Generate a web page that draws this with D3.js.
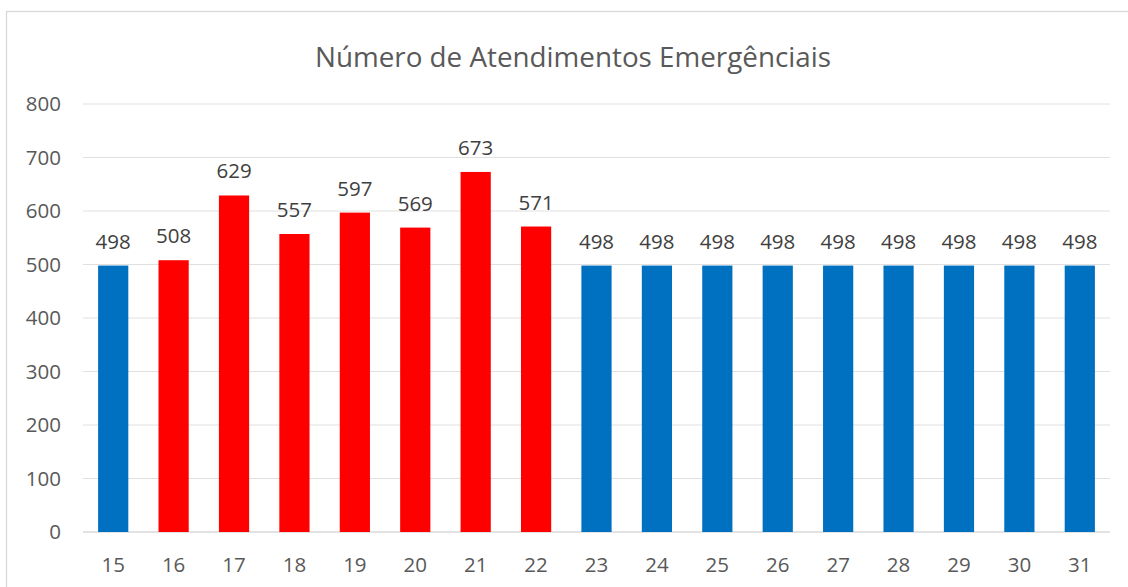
<!DOCTYPE html>
<html>
<head>
<meta charset="utf-8">
<script src="https://cdn.jsdelivr.net/npm/d3@7"></script>
<style>
  body { margin: 0; background: #fff; }
  svg { font-family: "Open Sans", sans-serif; }
</style>
</head>
<body>
<svg id="chart" width="1128" height="587"></svg>
<script>
// data
const days = ["15","16","17","18","19","20","21","22","23","24","25","26","27","28","29","30","31"];
const atendimentos = [498,508,629,557,597,569,673,571,498,498,498,498,498,498,498,498,498];
const highlighted = ["16","17","18","19","20","21","22"];
const yTicks = [0,100,200,300,400,500,600,700,800];

let svg = d3.select("#chart");

// chart frame
svg.append("rect")
    .attr("x", 6.5).attr("y", 11.5)
    .attr("width", 1140).attr("height", 600)
    .attr("fill", "#fff")
    .attr("stroke", "#d9d9d9")
    .attr("stroke-width", 1.3);

let x = d3.scaleBand()
    .domain(days)
    .range([83, 1110])
    .paddingInner(0.5)
    .paddingOuter(0.25);

let y = d3.scaleLinear()
    .domain([0, 800])
    .range([532, 104]);

svg.append("text")
    .attr("x", 573).attr("y", 67)
    .attr("text-anchor", "middle")
    .attr("font-size", 27.8)
    .attr("fill", "#595959")
    .text("Número de Atendimentos Emergênciais");

// gridlines
svg.append("g")
    .selectAll("line")
    .data(yTicks)
    .enter().append("line")
    .attr("x1", 83).attr("x2", 1110)
    .attr("y1", d => y(d)).attr("y2", d => y(d))
    .attr("stroke", d => d === 0 ? "#d9d9d9" : "#e0e0e0")
    .attr("stroke-width", d => d === 0 ? 1.5 : 1);

let yAxis = svg.append("g")
    .attr("transform", "translate(61,0)")
    .call(d3.axisLeft(y).tickValues(yTicks).tickSize(0).tickPadding(0));
yAxis.select(".domain").remove();
yAxis.selectAll("text")
    .attr("font-size", 20.5)
    .attr("font-family", "Open Sans, sans-serif")
    .attr("fill", "#595959");

svg.append("g")
    .selectAll("rect")
    .data(atendimentos)
    .enter().append("rect")
    .attr("x", (d, i) => x(days[i]))
    .attr("y", d => y(d))
    .attr("width", x.bandwidth())
    .attr("height", d => y(0) - y(d))
    .attr("fill", (d, i) => highlighted.includes(days[i]) ? "#ff0000" : "#0070c0");

// value labels
svg.append("g")
    .selectAll("text")
    .data(atendimentos)
    .enter().append("text")
    .attr("x", (d, i) => x(days[i]) + x.bandwidth() / 2)
    .attr("y", d => y(d) - 17)
    .attr("text-anchor", "middle")
    .attr("font-size", 20.5)
    .attr("fill", "#404040")
    .text(d => d);

let xAxis = svg.append("g")
    .attr("transform", "translate(0,532)")
    .call(d3.axisBottom(x).tickSize(0).tickPadding(25));
xAxis.select(".domain").remove();
xAxis.selectAll("text")
    .attr("font-size", 20.5)
    .attr("font-family", "Open Sans, sans-serif")
    .attr("fill", "#595959");
</script>
</body>
</html>
